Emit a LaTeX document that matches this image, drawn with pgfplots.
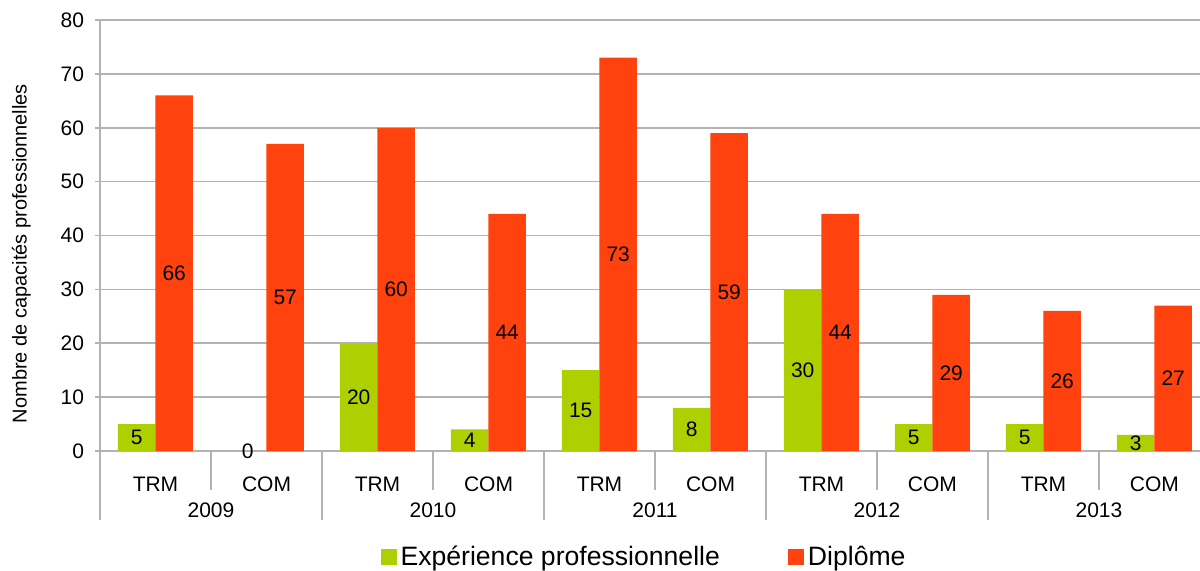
\documentclass[border=0pt]{standalone}
\usepackage{fontspec}
\setmainfont{Liberation Sans}
\usepackage{pgfplots}
\pgfplotsset{compat=1.18}
\definecolor{lgreen}{HTML}{AECF00}
\definecolor{lorange}{HTML}{FF420E}
\definecolor{gridgray}{HTML}{B3B3B3}
\begin{document}
\begin{tikzpicture}
\begin{axis}[
  scale only axis,
  width=550pt, height=215.5pt,
  xmin=-0.5, xmax=9.41,
  ymin=0, ymax=80,
  ytick={0,10,...,80},
  xtick={0,...,9},
  xticklabels={TRM,COM,TRM,COM,TRM,COM,TRM,COM,TRM,COM},
  x tick style={draw=none},
  y tick style={gridgray, line width=0.8pt},
  tick align=outside,
  major tick length=5pt,
  axis lines=left,
  axis line style={-, gridgray, line width=0.8pt},
  ymajorgrids,
  grid style={gridgray, line width=0.8pt},
  /pgf/number format/assume math mode=true,
  tick label style={font=\fontsize{10.5}{12}\selectfont},
  xticklabel style={anchor=center, yshift=-11.5pt},
  yticklabel style={xshift=-2pt},
  ylabel={Nombre de capacités professionnelles},
  ylabel style={font=\fontsize{10}{12}\selectfont, xshift=-9pt, yshift=8pt},
  ybar=0pt,
  bar width=18.75pt,
  clip=false,
  legend style={at={(0.4955,-0.246)}, anchor=center, draw=none, legend columns=2,
    font=\fontsize{13.3}{15}\selectfont, inner sep=0pt,
    /tikz/every even column/.append style={column sep=32pt}},
  legend image code/.code={\fill[#1] (0pt,-4pt) rectangle (8pt,4pt);},
  visualization depends on={y \as \rawy},
  nodes near coords,
  every node near coord/.append style={anchor=center, font=\fontsize{10.5}{12}\selectfont,
    shift={(axis direction cs:0,-\rawy/2)}},
]
\addplot[fill=lgreen, draw=none] coordinates {(0,5) (1,0) (2,20) (3,4) (4,15) (5,8) (6,30) (7,5) (8,5) (9,3)};
\addplot[fill=lorange, draw=none] coordinates {(0,66) (1,57) (2,60) (3,44) (4,73) (5,59) (6,44) (7,29) (8,26) (9,27)};
\legend{Expérience professionnelle, Diplôme}
\pgfplotsinvokeforeach{0.5,2.5,4.5,6.5,8.5}{
  \draw[gridgray, line width=0.8pt] (axis cs:#1,0) -- ([yshift=-19.5pt]axis cs:#1,0);
}
\pgfplotsinvokeforeach{-0.5,1.5,3.5,5.5,7.5}{
  \draw[gridgray, line width=0.8pt] (axis cs:#1,0) -- ([yshift=-34.5pt]axis cs:#1,0);
}
\node[font=\fontsize{10.5}{12}\selectfont] at ([yshift=-29.5pt]axis cs:0.5,0) {2009};
\node[font=\fontsize{10.5}{12}\selectfont] at ([yshift=-29.5pt]axis cs:2.5,0) {2010};
\node[font=\fontsize{10.5}{12}\selectfont] at ([yshift=-29.5pt]axis cs:4.5,0) {2011};
\node[font=\fontsize{10.5}{12}\selectfont] at ([yshift=-29.5pt]axis cs:6.5,0) {2012};
\node[font=\fontsize{10.5}{12}\selectfont] at ([yshift=-29.5pt]axis cs:8.5,0) {2013};
\end{axis}
\pgfresetboundingbox
\path[use as bounding box] (-50pt,-59.5pt) rectangle (550pt,225.5pt);
\end{tikzpicture}
\end{document}
